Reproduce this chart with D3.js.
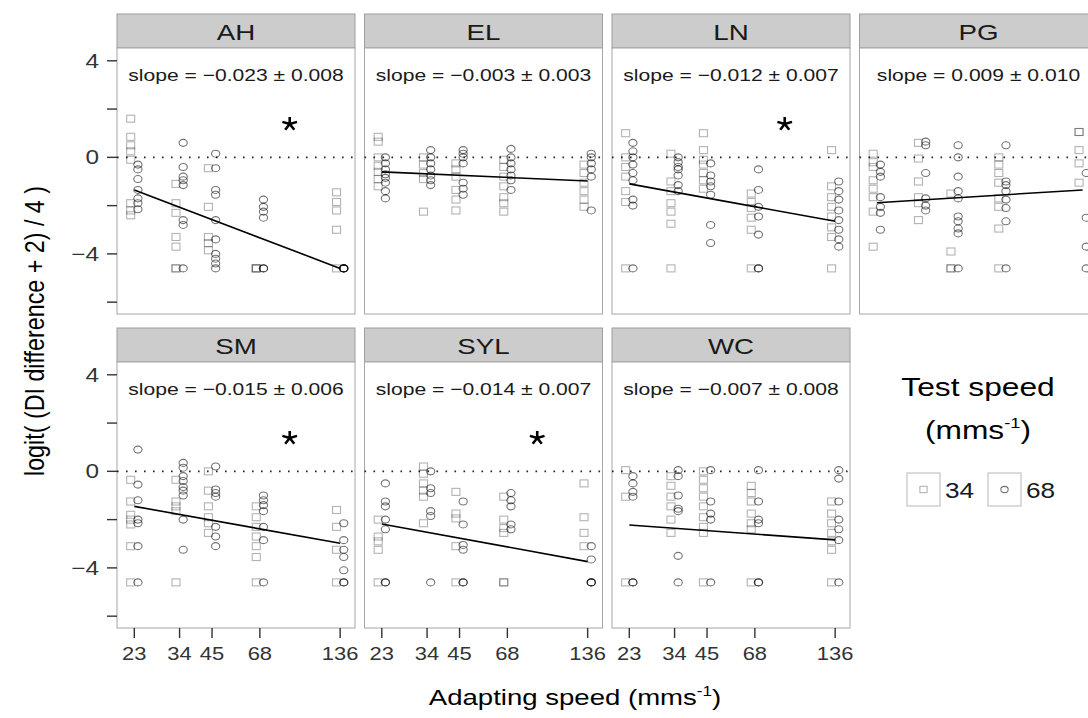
<!DOCTYPE html>
<html>
<head>
<meta charset="utf-8">
<script src="https://cdn.jsdelivr.net/npm/d3@7"></script>
<style>
  body { margin: 0; background: #fff; }
  svg { display: block; }
  text { font-family: "Liberation Sans", Arial, Helvetica, sans-serif; }
</style>
</head>
<body>
<svg id="chart" width="1088" height="718"></svg>
<script>
// ---- data -------------------------------------------------------------
const subjects = ["AH", "EL", "LN", "PG", "SM", "SYL", "WC"];
const adaptSpeeds = [23, 34, 45, 68, 136];
const xTickLabels = ["23", "34", "45", "68", "136"];
const yTicks = [4, 2, 0, -2, -4, -6];
const yTickLabels = ["4", "", "0", "", "\u22124", ""];
const testSpeeds = ["34", "68"];

const slopeEst = [-0.023, -0.003, -0.012, 0.009, -0.015, -0.014, -0.007];
const slopeSE  = [0.008, 0.003, 0.007, 0.010, 0.006, 0.007, 0.008];
const significant = [true, false, true, false, true, true, false];
// fitted line value at the slowest and fastest adapting speeds
const fitAt23  = [-1.35, -0.60, -1.10, -1.88, -1.45, -2.18, -2.22];
const fitAt136 = [-4.60, -0.98, -2.65, -1.35, -2.98, -3.74, -2.84];

// observations, one array per adapting speed (23, 34, 45, 68, 136)
const AH_34 = [[1.6, 0.85, 0.5, 0.25, -0.1, -1.9, -2.2, -2.4],
               [-1.1, -1.9, -2.3, -3.3, -3.7, -4.6, -4.6],
               [-0.45, -2.05, -3.3, -3.55, -3.85],
               [-4.6, -4.6, -4.6],
               [-1.45, -1.85, -2.2, -3.0, -4.6]];
const AH_68 = [[-0.3, -0.5, -0.9, -1.35, -1.7, -1.9, -2.15],
               [0.6, -0.4, -0.8, -0.95, -1.15, -2.6, -2.8, -4.6],
               [0.15, -0.45, -1.35, -1.55, -2.6, -3.4, -4.0, -4.2, -4.4, -4.6],
               [-1.75, -2.05, -2.25, -2.5, -4.6, -4.6],
               [-4.6, -4.6, -4.6, -4.6, -4.6]];

const EL_34 = [[0.85, 0.65, 0, -0.35, -0.6, -0.9, -1.2],
               [0, -0.3, -0.65, -0.9, -2.25],
               [-0.25, -0.5, -0.8, -1.35, -1.75, -2.2],
               [-0.1, -0.4, -0.8, -1.2, -1.65, -1.9, -2.25],
               [-0.3, -0.65, -1.05, -1.4, -1.75, -2.05]];
const EL_68 = [[0, -0.25, -0.5, -0.7, -0.85, -1.05, -1.4, -1.7],
               [0.3, 0, -0.25, -0.5, -0.75, -0.95, -1.15],
               [0.3, 0.15, 0, -0.25, -1.05, -1.3, -1.55],
               [0.35, 0, -0.25, -0.5, -0.75, -0.95, -1.35],
               [0.15, 0, -0.25, -0.5, -0.8, -2.2]];

const LN_34 = [[1.0, 0, -0.4, -0.8, -1.4, -1.85, -4.6],
               [0.15, -1.0, -1.4, -1.9, -2.25, -2.75, -4.6],
               [1.0, 0.3, -0.1, -0.3, -0.65, -0.95, -1.3],
               [-1.5, -1.85, -2.1, -2.5, -3.0, -4.6],
               [0.3, -1.2, -1.65, -2.05, -2.45, -2.9, -3.3, -4.6]];
const LN_68 = [[0.6, 0.25, 0, -0.3, -0.65, -0.95, -1.75, -2.0, -4.6],
               [0, -0.2, -0.4, -0.5, -0.75, -1.15, -1.4],
               [-0.25, -0.75, -1.0, -1.2, -1.55, -2.8, -3.55],
               [-0.5, -1.35, -2.05, -2.45, -3.2, -4.6, -4.6],
               [-1.0, -1.4, -1.75, -2.2, -2.6, -3.0, -3.4, -3.7]];

const PG_34 = [[0.15, -0.2, -0.4, -0.95, -1.3, -1.65, -2.25, -3.7],
               [0.6, -0.05, -1.0, -1.65, -1.9, -2.6],
               [-1.5, -3.9, -4.6, -4.6],
               [0, -0.3, -0.65, -1.05, -1.7, -2.05, -2.95, -4.6],
               [1.05, 1.05, 0.3, -0.25, -1.05]];
const PG_68 = [[-0.3, -0.6, -0.8, -1.65, -2.05, -2.3, -3.0],
               [0.65, 0.5, -0.65, -1.7, -2.0, -2.2],
               [0.5, 0, -0.8, -1.4, -1.7, -2.45, -2.65, -2.95, -3.15, -4.6],
               [0.5, -1.0, -1.15, -1.4, -1.75, -2.1, -2.65, -4.6],
               [-0.65, -2.5, -3.7, -4.6]];

const SM_34 = [[-0.35, -1.25, -1.8, -2.0, -2.2, -3.1, -4.6],
               [-0.35, -1.25, -1.45, -1.65, -4.6],
               [0, -0.8, -1.45, -1.9, -2.15, -2.55],
               [-1.45, -1.9, -2.3, -2.7, -3.1, -3.55, -4.6],
               [-1.6, -2.3, -3.25, -4.6]];
const SM_68 = [[0.9, -0.55, -1.2, -2.0, -2.15, -3.1, -4.6],
               [0.35, 0.15, -0.2, -0.4, -0.65, -0.8, -1.0, -2.0, -3.25],
               [0.2, -0.75, -0.9, -1.05, -2.3, -2.7, -3.1],
               [-1.0, -1.2, -1.4, -1.65, -2.3, -2.85, -4.6],
               [-2.15, -2.85, -3.25, -3.55, -4.1, -4.6, -4.6]];

const SYL_34 = [[-2.0, -2.7, -2.9, -3.25, -4.6],
                [0.2, -0.1, -0.5, -0.8, -1.05, -2.15],
                [-0.85, -1.75, -1.95, -3.1, -4.6],
                [-1.05, -2.0, -2.35, -2.55, -4.6, -4.6],
                [-0.5, -1.9, -2.55, -3.1]];
const SYL_68 = [[-0.5, -1.25, -1.45, -2.0, -2.4, -4.6, -4.6],
                [0, -0.7, -0.9, -1.65, -1.85, -4.6],
                [-1.25, -2.2, -3.05, -3.25, -4.6, -4.6],
                [-0.9, -1.2, -1.45, -2.2, -2.4],
                [-3.1, -3.65, -4.6, -4.6, -4.6]];

const WC_34 = [[0.05, -1.05, -4.6],
               [-0.2, -0.6, -1.05, -1.45, -2.0, -2.55],
               [0, -0.35, -0.7, -1.05, -1.45, -1.9, -2.3, -2.55, -4.6],
               [-0.6, -0.9, -1.25, -1.75, -2.15, -2.4, -4.6],
               [-1.25, -1.75, -2.15, -2.55, -2.9, -3.25, -4.6]];
const WC_68 = [[-0.2, -0.5, -0.85, -1.05, -4.6, -4.6],
               [0.05, -0.2, -1.0, -1.55, -1.65, -3.5, -4.6],
               [0.05, -1.25, -1.75, -2.0, -4.6],
               [0.05, -1.25, -2.0, -2.15, -4.6, -4.6],
               [0.05, -0.3, -1.25, -2.0, -2.4, -2.85, -4.6]];

const observations = {
  AH:  [AH_34, AH_68],  EL:  [EL_34, EL_68],  LN: [LN_34, LN_68],
  PG:  [PG_34, PG_68],  SM:  [SM_34, SM_68],  SYL: [SYL_34, SYL_68],
  WC:  [WC_34, WC_68]
};

// ---- layout -----------------------------------------------------------
const SX = 1.22;                // horizontal text stretch of the figure
const ncol = 4;
const panelW = 238, panelH = 266, stripH = 34;
const colStep = 247.5, rowStep = 314;
const left0 = 117, top0 = 14;

const svg = d3.select("#chart");

const x = d3.scaleLog().domain([19.81, 154.6]).range([0, panelW]);
const y = d3.scaleLinear().domain([-6.49, 4.53]).range([panelH, 0]);

function label(parent, px, py, str, size, anchor, fill, sx) {
  return parent.append("text")
    .attr("transform", `translate(${px},${py}) scale(${sx || SX},1)`)
    .attr("text-anchor", anchor || "middle")
    .attr("font-size", size)
    .attr("fill", fill || "#1a1a1a")
    .text(str);
}

const symbolColour = ["rgba(0,0,0,0.30)", "rgba(0,0,0,0.55)"];
const dodge = [-3.6, 3.6];

function drawSymbol(g, kind, cx, cy, colour, scale) {
  const k = scale || 1;
  if (kind === 0) {
    g.append("rect")
      .attr("x", cx - 4 * k).attr("y", cy - 3.5 * k)
      .attr("width", 8 * k).attr("height", 7 * k)
      .attr("fill", "none").attr("stroke", colour).attr("stroke-width", 1.1);
  } else {
    g.append("ellipse")
      .attr("cx", cx).attr("cy", cy)
      .attr("rx", 4.1 * k).attr("ry", 3.5 * k)
      .attr("fill", "none").attr("stroke", colour).attr("stroke-width", 1.1);
  }
}

function starPath(r) {
  let p = "";
  for (let k = 0; k < 5; k++) {
    const a = (-90 + k * 72) * Math.PI / 180;
    p += `M0,0L${(Math.cos(a) * r * 1.1).toFixed(2)},${(Math.sin(a) * r).toFixed(2)}`;
  }
  return p;
}

subjects.forEach((s, idx) => {
  const col = idx % ncol, row = Math.floor(idx / ncol);
  const px = left0 + col * colStep;
  const stripTop = top0 + row * rowStep;
  const py = stripTop + stripH;

  // strip
  svg.append("rect")
    .attr("x", px).attr("y", stripTop)
    .attr("width", panelW).attr("height", stripH)
    .attr("fill", "#cccccc").attr("stroke", "#9e9e9e").attr("stroke-width", 1);
  label(svg, px + panelW / 2, stripTop + 25.5, s, 22, "middle", "#1a1a1a", 1.26);

  const g = svg.append("g").attr("transform", `translate(${px},${py})`);

  // panel background + border
  g.append("rect")
    .attr("width", panelW).attr("height", panelH)
    .attr("fill", "#fff").attr("stroke", "#a6a6a6").attr("stroke-width", 1);

  // reference line at zero
  g.append("line")
    .attr("x1", 0).attr("x2", panelW)
    .attr("y1", y(0)).attr("y2", y(0))
    .attr("stroke", "#222").attr("stroke-width", 1.6)
    .attr("stroke-dasharray", "1.6,7.4");

  // observations
  observations[s].forEach((series, t) => {
    series.forEach((vals, i) => {
      vals.forEach(v => {
        drawSymbol(g, t, x(adaptSpeeds[i]) + dodge[t], y(v), symbolColour[t]);
      });
    });
  });

  // fitted line
  g.append("line")
    .attr("x1", x(adaptSpeeds[0])).attr("y1", y(fitAt23[idx]))
    .attr("x2", x(adaptSpeeds[adaptSpeeds.length - 1])).attr("y2", y(fitAt136[idx]))
    .attr("stroke", "#000").attr("stroke-width", 1.6);

  // slope annotation
  const fmt = d3.format(".3f");
  const est = (slopeEst[idx] < 0 ? "\u2212" : "") + fmt(Math.abs(slopeEst[idx]));
  label(g, panelW / 2, y(3.4) + 6, `slope = ${est} \u00b1 ${fmt(slopeSE[idx])}`, 17.3, "middle", "#1a1a1a");

  if (significant[idx]) {
    g.append("path")
      .attr("transform", `translate(${x(88)},${y(1.38)})`)
      .attr("d", starPath(7))
      .attr("stroke", "#000").attr("stroke-width", 2.6).attr("fill", "none");
  }

  // y axis on first column
  if (col === 0) {
    const ax = svg.append("g").attr("transform", `translate(${px},${py})`);
    yTicks.forEach((t, k) => {
      ax.append("line")
        .attr("x1", -10).attr("x2", 0).attr("y1", y(t)).attr("y2", y(t))
        .attr("stroke", "#333").attr("stroke-width", 1.4);
      if (yTickLabels[k]) label(ax, -18, y(t) + 7, yTickLabels[k], 20, "end", "#333");
    });
  }

  // x axis on bottom row
  if (row === 1) {
    const ax = svg.append("g").attr("transform", `translate(${px},${py + panelH})`);
    adaptSpeeds.forEach((v, k) => {
      ax.append("line")
        .attr("x1", x(v)).attr("x2", x(v)).attr("y1", 0).attr("y2", 10)
        .attr("stroke", "#333").attr("stroke-width", 1.4);
      label(ax, x(v), 32, xTickLabels[k], 18, "middle", "#333");
    });
  }
});

// axis titles
const xt = label(svg, 575, 705, "Adapting speed (mms", 22.6, "middle", "#000");
xt.append("tspan").attr("font-size", 14).attr("dy", -9).text("-1");
xt.append("tspan").attr("dy", 9).text(")");

svg.append("text")
  .attr("transform", `translate(44,331) scale(${SX},1) rotate(-90)`)
  .attr("text-anchor", "middle")
  .attr("font-size", 23.3)
  .attr("fill", "#000")
  .text("logit( (DI difference + 2) / 4 )");

// legend
const lg = svg.append("g");
label(lg, 978, 396, "Test speed", 26, "middle", "#000");
const lt = label(lg, 978, 439, "(mms", 26, "middle", "#000");
lt.append("tspan").attr("font-size", 15).attr("dy", -11).text("-1");
lt.append("tspan").attr("dy", 11).text(")");

const keyX = [907, 988], keyY = 473, keyS = 33;
testSpeeds.forEach((lab, t) => {
  lg.append("rect")
    .attr("x", keyX[t]).attr("y", keyY).attr("width", keyS).attr("height", keyS)
    .attr("fill", "#fff").attr("stroke", "#c4c4c4").attr("stroke-width", 1.2);
  drawSymbol(lg, t, keyX[t] + keyS / 2, keyY + keyS / 2, symbolColour[t], 0.9);
  label(lg, keyX[t] + keyS + 5, keyY + keyS / 2 + 8, lab, 21.5, "start", "#1a1a1a");
});
</script>
</body>
</html>
